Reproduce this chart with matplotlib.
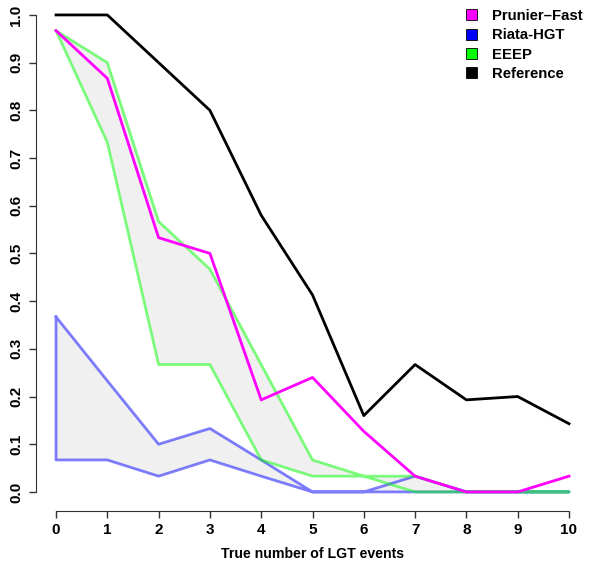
import numpy as np
from matplotlib import pyplot as plt
from matplotlib.patches import Patch

plt.rcParams['font.family'] = ['Liberation Sans', 'DejaVu Sans']
plt.rcParams['font.weight'] = 'bold'

# data
n_events = np.arange(0, 11)
reference = [1.0, 1.0, 0.9, 0.8, 0.58, 0.413, 0.16, 0.267, 0.193, 0.2, 0.143]
prunier_fast = [0.967, 0.867, 0.533, 0.5, 0.193, 0.24, 0.127, 0.033, 0.0, 0.0, 0.033]
eeep_high = [0.967, 0.9, 0.567, 0.467, 0.267, 0.067, 0.033, 0.0, 0.0, 0.0, 0.0]
eeep_low = [0.967, 0.733, 0.267, 0.267, 0.067, 0.033, 0.033, 0.033, 0.0, 0.0, 0.0]
riata_high = [0.367, 0.233, 0.1, 0.133, 0.067, 0.0, 0.0, 0.033, 0.0, 0.0, 0.0]
riata_low = [0.067, 0.067, 0.033, 0.067, 0.033, 0.0, 0.0, 0.0, 0.0, 0.0, 0.0]

yticks = np.arange(0, 11) / 10.0

fig = plt.figure(figsize=(6.0, 5.68), dpi=100)
ax = fig.add_axes([35.5/600, 57/568, 554/600, 505.6/568])

fill_col = '#f0f0f0'
blue_line = (0, 0, 1, 0.5)
green_line = (0, 1, 0, 0.5)

# shaded ranges as closed polygons
for hi, lo in [(riata_high, riata_low), (eeep_high, eeep_low)]:
    px = np.concatenate([n_events, n_events[::-1]])
    py = np.concatenate([hi, lo[::-1]])
    ax.fill(px, py, color=fill_col, lw=0, zorder=1)

for hi, lo, c in [(riata_high, riata_low, blue_line), (eeep_high, eeep_low, green_line)]:
    px = np.concatenate([n_events, n_events[::-1], n_events[:1]])
    py = np.concatenate([hi, lo[::-1], hi[:1]])
    ax.plot(px, py, color=c, lw=2, zorder=2)

ax.plot(n_events, prunier_fast, color='#ff00ff', lw=2, zorder=3)
ax.plot(n_events, reference, color='black', lw=2, zorder=4)

ax.set_xlim(-0.4, 10.4)
ax.set_ylim(-0.04, 1.02)
ax.set_xticks(n_events)
ax.set_yticks(yticks)
ax.set_yticklabels(['%.1f' % v for v in yticks], rotation=90, va='center')
ax.tick_params(axis='both', length=5, width=1, color='#333333', labelsize=11, pad=4)

for s in ['top', 'right']:
    ax.spines[s].set_visible(False)
ax.spines['left'].set_bounds(0, 1)
ax.spines['bottom'].set_bounds(0, 10)
for s in ['left', 'bottom']:
    ax.spines[s].set_color('#333333')

ax.set_xlabel('True number of LGT events', fontsize=10.2, fontweight='bold', labelpad=7)

handles = [Patch(facecolor='#ff00ff', edgecolor='black', lw=0.6),
           Patch(facecolor='#0000ff', edgecolor='black', lw=0.6),
           Patch(facecolor='#00ff00', edgecolor='black', lw=0.6),
           Patch(facecolor='black', edgecolor='black', lw=0.6)]
labels = ['Prunier\u2013Fast', 'Riata-HGT', 'EEEP', 'Reference']
ax.legend(handles, labels, loc='upper left', bbox_to_anchor=(466/600, 1 - 9/568),
          bbox_transform=fig.transFigure, frameon=False, borderpad=0, borderaxespad=0,
          handlelength=0.75, handleheight=0.75, handletextpad=1.0, labelspacing=0.36,
          prop={'size': 10.7, 'weight': 'bold'})

plt.savefig('out.png', dpi=100)
